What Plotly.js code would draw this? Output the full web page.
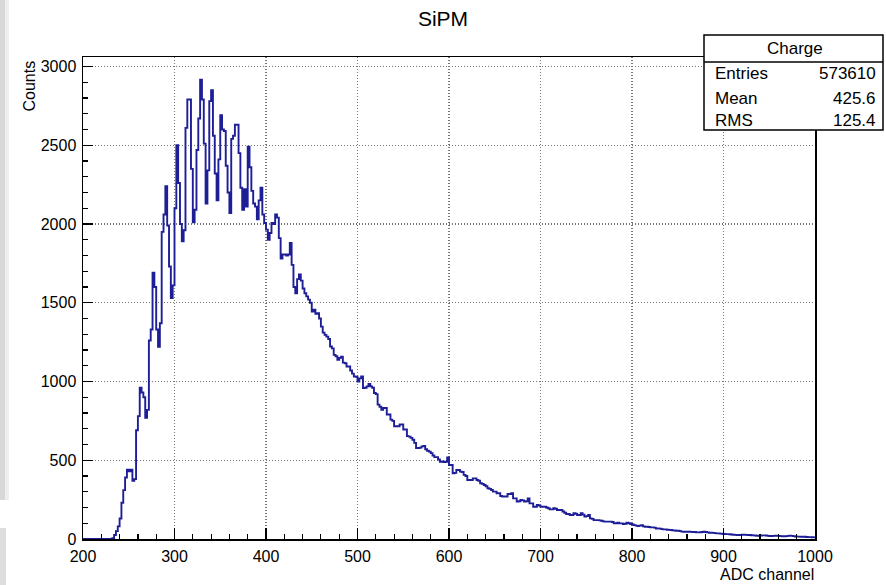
<!DOCTYPE html>
<html>
<head>
<meta charset="utf-8">
<script src="https://cdn.plot.ly/plotly-3.0.1.min.js"></script>
<style>html,body{margin:0;padding:0;background:#fff;}#chart{width:886px;height:585px;}</style>
</head>
<body>
<div id="chart"></div>
<script>
// Histogram "Charge": 400 bins of width 2 ADC channels, 200..1000
const binStart = 200;
const binWidth = 2;
// counts for bins starting at 200..398
const counts200 = [0,0,0,0,0,0,0,0,0,0,0,0,0,0,0,0,
  5,25,50,80,
  130,230,310,390,440,
  430,440,370,380,690,
  780,960,930,900,770,
  820,1260,1330,1690,1600,
  1330,1220,1370,1950,2060,
  2240,1990,1730,1530,1610,
  2100,2500,2260,2000,1890,
  1960,2610,2790,2790,2350,
  2010,2090,2470,2670,2916,
  2790,2510,2130,2340,2780,
  2850,2560,2320,2150,2410,
  2690,2600,2590,2370,2200,
  2070,2540,2560,2630,2630,
  2450,2230,2090,2220,2110,
  2490,2360,2210,2130,2110,
  2030,2150,2230,2060,2006];
// counts for bins starting at 400..598
const counts400 = [1964,1900,1943,2006,2000,
  2060,2040,1910,1780,1806,
  1806,1800,1806,1880,1740,
  1600,1560,1650,1680,1640,
  1590,1560,1540,1520,1500,
  1444,1455,1430,1434,1400,
  1348,1310,1296,1285,1270,
  1222,1210,1169,1160,1137,
  1150,1158,1120,1116,1095,
  1095,1070,1050,1032,1030,
  1000,1020,1032,958,960,
  969,985,969,960,927,
  920,853,840,821,832,
  832,790,790,758,750,
  716,716,716,727,727,
  695,695,653,650,642,
  630,610,578,578,580,
  588,590,570,560,555,
  545,530,520,520,505,
  490,492,488,490,518];
// counts for bins starting at 600..798
const counts600 = [470,470,417,420,438,
  438,428,425,407,400,
  375,375,375,385,385,
  375,370,354,350,343,
  335,322,318,311,301,
  301,290,290,273,270,
  269,270,286,286,290,
  258,258,237,240,248,
  245,237,240,258,226,
  226,205,205,216,212,
  205,205,205,200,195,
  188,188,195,192,184,
  184,184,175,167,159,
  159,152,152,163,160,
  152,152,163,155,142,
  145,152,131,128,120,
  120,120,118,116,112,
  110,110,110,110,108,
  99,100,103,99,99,
  95,97,103,100,95];
// counts for bins starting at 800..998
const counts800 = [92,88,85,82,85,
  88,80,78,78,76,
  74,74,72,67,67,
  66,63,61,61,59,
  58,57,55,54,52,
  52,50,47,46,46,
  47,46,45,44,44,
  42,42,43,44,46,
  44,42,40,40,39,
  37,36,36,34,33,
  32,31,31,30,29,
  27,26,25,25,26,
  27,27,26,25,25,
  24,23,22,21,21,
  22,23,23,22,20,
  19,19,20,21,21,
  20,18,17,17,18,
  20,21,20,18,16,
  15,15,14,15,14,
  13,12,12,11,10];

const statsTitle = "Charge";
const statsLabels = ["Entries", "Mean", "RMS"];
const statsValues = ["573610", "425.6", "125.4"];
const xTitle = "ADC channel";
const yTitle = "Counts";
const chartTitle = "SiPM";

const counts = counts200.concat(counts400, counts600, counts800);
const xs = [], ys = [];
for (let i = 0; i < counts.length; i++) {
  xs.push(binStart + i * binWidth);
  ys.push(counts[i]);
}
xs.push(binStart + counts.length * binWidth);
ys.push(counts[counts.length - 1]);

// pixel -> paper helpers (plot area 83..815 x, 57..539 y)
const L = 83, R = 815, T = 57, B = 539;
const px = v => (v - L) / (R - L);
const py = v => (B - v) / (B - T);

const FONT = "Liberation Sans, Arial, Helvetica, sans-serif";

const trace = {
  type: "scatter", mode: "lines",
  x: xs, y: ys,
  line: {shape: "hv", color: "rgb(30,30,150)", width: 1.9},
  hoverinfo: "x+y"
};

const annotations = [
  {text: statsTitle, xref: "paper", yref: "paper", x: px(795), y: py(48), xanchor: "center", yanchor: "middle", showarrow: false, font: {family: FONT, size: 17, color: "#000"}},
  {text: yTitle, xref: "paper", yref: "paper", x: px(29), y: py(59), xanchor: "center", yanchor: "top", textangle: -90, showarrow: false, font: {family: FONT, size: 16, color: "#000"}},
  {text: xTitle, xref: "paper", yref: "paper", x: px(816), y: py(574), xanchor: "right", yanchor: "middle", showarrow: false, font: {family: FONT, size: 16, color: "#000"}}
];
const rowY = [73, 98, 120];
for (let i = 0; i < statsLabels.length; i++) {
  annotations.push({text: statsLabels[i], xref: "paper", yref: "paper", x: px(713), y: py(rowY[i]), xanchor: "left", yanchor: "middle", showarrow: false, font: {family: FONT, size: 17, color: "#000"}});
  annotations.push({text: statsValues[i], xref: "paper", yref: "paper", x: px(878), y: py(rowY[i]), xanchor: "right", yanchor: "middle", showarrow: false, font: {family: FONT, size: 17, color: "#000"}});
}

const shapes = [
  {type: "rect", xref: "paper", yref: "paper", x0: px(-2), x1: px(5), y0: py(0), y1: py(500), fillcolor: "#d8d8d8", line: {width: 0}, layer: "below"},
  {type: "rect", xref: "paper", yref: "paper", x0: px(5), x1: px(9), y0: py(0), y1: py(500), fillcolor: "#eeeeee", line: {width: 0}, layer: "below"},
  {type: "rect", xref: "paper", yref: "paper", x0: px(-2), x1: px(6), y0: py(528), y1: py(590), fillcolor: "#dddddd", line: {width: 0}, layer: "below"},
  {type: "rect", xref: "paper", yref: "paper", x0: px(704), x1: px(883), y0: py(130), y1: py(35), fillcolor: "#ffffff", line: {color: "#000", width: 1.5}},
  {type: "line", xref: "paper", yref: "paper", x0: px(704), x1: px(883), y0: py(62), y1: py(62), line: {color: "#000", width: 1.5}}
];

const axisCommon = {
  showline: true, linecolor: "#000", linewidth: 1.5, mirror: true,
  ticks: "inside", tickcolor: "#000", tickwidth: 1.2,
  showgrid: true, gridcolor: "#777", griddash: "1px,2px", gridwidth: 1.2,
  zeroline: false,
  tickfont: {family: FONT, size: 16, color: "#000"}
};

const layout = {
  width: 886, height: 585,
  margin: {l: L, r: 886 - R, t: T, b: 585 - B, pad: 0},
  paper_bgcolor: "#fff", plot_bgcolor: "#fff",
  showlegend: false,
  title: {text: chartTitle, x: 0.5, xref: "container", xanchor: "center", y: 1 - 19 / 585, yref: "container", yanchor: "middle", font: {family: FONT, size: 21, color: "#000"}},
  xaxis: Object.assign({}, axisCommon, {
    range: [200, 1000], tickmode: "linear", tick0: 200, dtick: 100, ticklen: 11,
    minor: {ticks: "inside", ticklen: 5, dtick: 20, tick0: 200, tickcolor: "#000", showgrid: false},
    ticklabelstandoff: 2
  }),
  yaxis: Object.assign({}, axisCommon, {
    range: [0, 3060], tickmode: "linear", tick0: 0, dtick: 500, ticklen: 10,
    minor: {ticks: "inside", ticklen: 5, dtick: 100, tick0: 0, tickcolor: "#000", showgrid: false},
    ticklabelstandoff: 2
  }),
  shapes: shapes,
  annotations: annotations
};

Plotly.newPlot("chart", [trace], layout, {displayModeBar: false, staticPlot: true});
</script>
</body>
</html>
